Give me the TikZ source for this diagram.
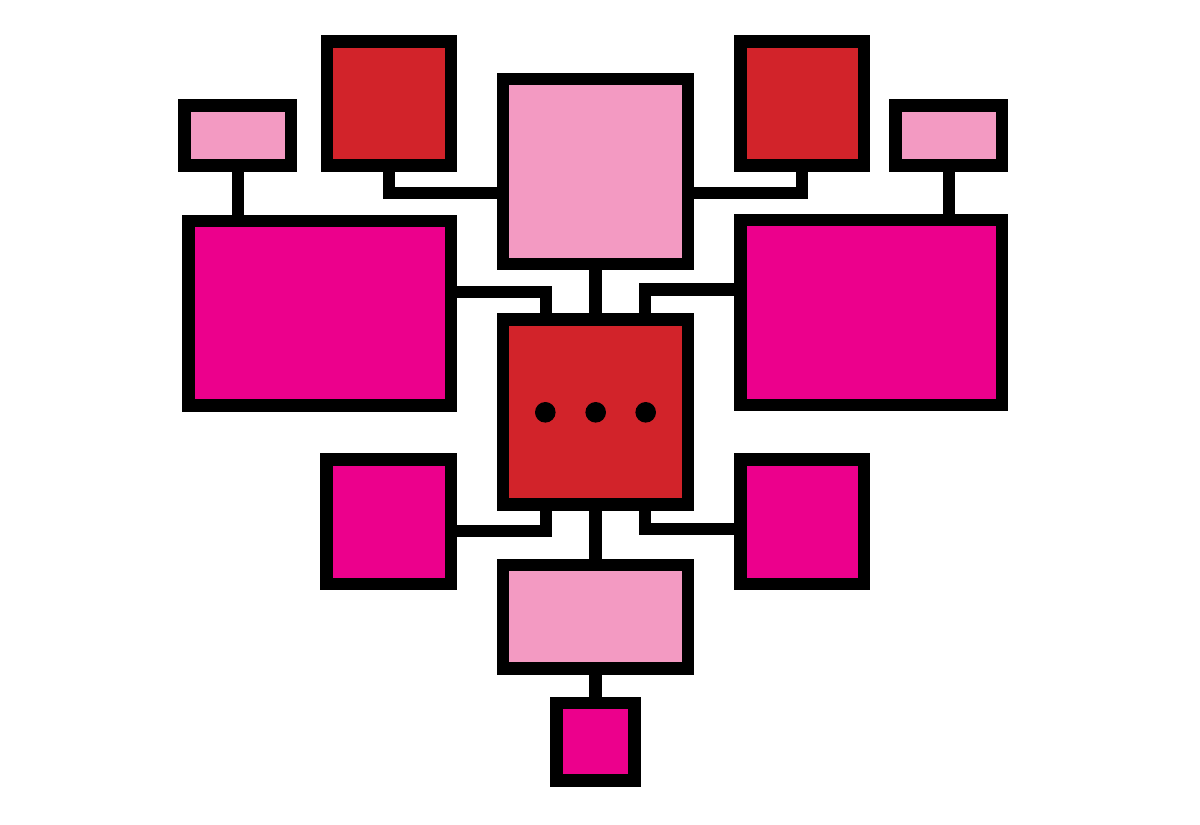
\documentclass[tikz,border=0pt]{standalone}
\usetikzlibrary{calc}
\definecolor{lpink}{RGB}{243,154,194}
\definecolor{bred}{RGB}{210,35,42}
\definecolor{magen}{RGB}{236,0,140}
\tikzset{
  box/.style={draw=black, line width=12.4pt, rectangle, inner sep=0pt, outer sep=0pt, line join=miter},
  wire/.style={draw=black, line width=12.4pt, line join=miter},
  dot/.style={circle, fill=black, inner sep=0pt, minimum size=20.6pt}
}
\begin{document}
\begin{tikzpicture}[x=1pt,y=1pt]
\useasboundingbox (0,0) rectangle (1200,-825);
% boxes
\node[box, fill=lpink, minimum width=106.5pt, minimum height=60pt] (A) at (237.75,-135.5) {};
\node[box, fill=bred, minimum width=123.7pt, minimum height=124pt] (B) at (388.85,-103.5) {};
\node[box, fill=lpink, minimum width=184.8pt, minimum height=185pt] (C) at (595.4,-171.5) {};
\node[box, fill=bred, minimum width=123.7pt, minimum height=124pt] (D) at (802.15,-103.5) {};
\node[box, fill=lpink, minimum width=106.4pt, minimum height=60pt] (E) at (948.8,-135.5) {};
\node[box, fill=magen, minimum width=262.2pt, minimum height=184.5pt] (F) at (319.6,-313.25) {};
\node[box, fill=magen, minimum width=261.7pt, minimum height=185pt] (G) at (871.15,-312.5) {};
\node[box, fill=bred, minimum width=185pt, minimum height=185pt] (H) at (595.5,-412) {};
\node[box, fill=magen, minimum width=124.2pt, minimum height=124.5pt] (I) at (388.6,-521.75) {};
\node[box, fill=magen, minimum width=123.7pt, minimum height=124.5pt] (J) at (802.15,-521.75) {};
\node[box, fill=lpink, minimum width=184.8pt, minimum height=103.5pt] (K) at (595.4,-616.75) {};
\node[box, fill=magen, minimum width=78pt, minimum height=77.5pt] (L) at (595.5,-741.75) {};
% dots
\node[dot] (d1) at (545.3,-412.3) {};
\node[dot] (d2) at (595.7,-412.3) {};
\node[dot] (d3) at (645.7,-412.3) {};
% bend points
\coordinate (bc) at (389,-193);
\coordinate (dc) at (802,-193);
\coordinate (fh) at (546,-291.7);
\coordinate (gh) at (645,-289.5);
\coordinate (ih) at (546,-531);
\coordinate (jh) at (645,-528.7);
% connectors
\draw[wire] (A.south) -- (A.south |- F.north);
\draw[wire] (E.south) -- (E.south |- G.north);
\draw[wire] (B.south) |- (C.west |- bc);
\draw[wire] (D.south) |- (C.east |- dc);
\draw[wire] (F.east |- fh) -| (fh |- H.north);
\draw[wire] (G.west |- gh) -| (gh |- H.north);
\draw[wire] (C.south) -- (C.south |- H.north);
\draw[wire] (H.south) -- (H.south |- K.north);
\draw[wire] (I.east |- ih) -| (ih |- H.south);
\draw[wire] (J.west |- jh) -| (jh |- H.south);
\draw[wire] (K.south) -- (K.south |- L.north);
\end{tikzpicture}
\end{document}
